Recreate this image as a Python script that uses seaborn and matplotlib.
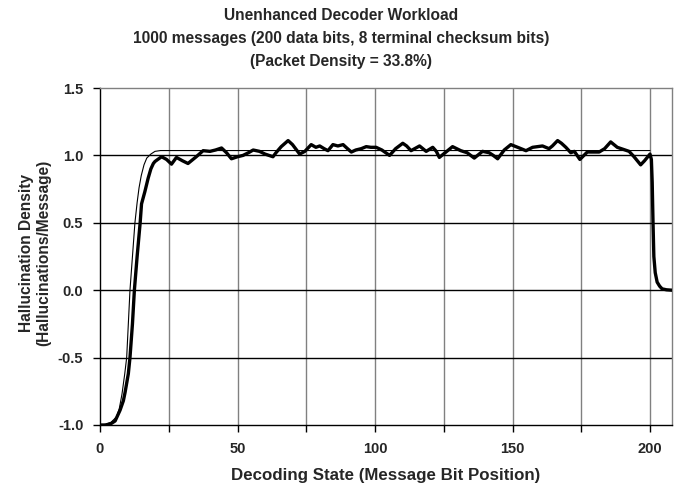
import numpy as np
import pandas as pd
import matplotlib
matplotlib.use('Agg')
import matplotlib.pyplot as plt
import seaborn as sns

# thin reference curve (expected density)
model_x = [0, 2, 4, 6, 7, 8, 9, 9.7, 10.3, 10.9, 11.8, 12.7, 13.5, 14.2, 15, 16, 17, 18.5, 20, 22, 200]
model_y = [-1.0, -0.995, -0.98, -0.94, -0.88, -0.77, -0.62, -0.5, -0.25, 0.0, 0.25, 0.5, 0.65, 0.76, 0.85, 0.93, 0.98, 1.01, 1.03, 1.036, 1.036]

# thick measured curve
meas_x = [0, 2, 4, 5.5, 7.3, 8.5, 9.1, 10.3, 10.9, 11.8, 12.5, 13.5, 14.6, 15.1, 16.3, 17.5,
          18.5, 19.4, 20, 21, 22.4, 24.2, 26, 27.8, 30, 32, 35, 37.5, 40, 42, 44.2, 46, 47.8,
          50, 52, 54, 55.7, 58, 60, 62.9, 64, 65.9, 68.4, 70, 72.6, 74.5, 76.8, 78.5, 79.9,
          81.5, 82.9, 84.7, 86.5, 88.4, 90, 91.4, 93, 95, 96.8, 98.5, 100.4, 102.5, 105.3,
          107.5, 110.1, 111.5, 113.1, 116.2, 118.6, 121, 122.3, 123.4, 125.5, 128.2, 131.2,
          133.5, 136.1, 139.1, 141.5, 143, 144.6, 147, 149.4, 152.5, 154.9, 157.3, 160.9,
          163.3, 164.5, 166.4, 167.8, 169.4, 171.2, 172.5, 174.5, 177.2, 181.5, 183.5, 185.7,
          188.1, 192.4, 194.2, 196.6, 198, 199.2, 200.0, 200.5, 200.8, 201.1, 201.4, 201.9,
          202.6, 203.5, 204.4, 206, 208]
meas_y = [-1.0, -1.0, -0.99, -0.97, -0.89, -0.82, -0.76, -0.62, -0.5, -0.25, 0.0, 0.25, 0.5,
          0.64, 0.73, 0.83, 0.9, 0.94, 0.955, 0.97, 0.99, 0.97, 0.935, 0.985, 0.96, 0.94, 0.99,
          1.035, 1.03, 1.04, 1.055, 1.02, 0.975, 0.99, 1.0, 1.02, 1.04, 1.03, 1.01, 0.99, 1.02,
          1.065, 1.11, 1.08, 1.01, 1.03, 1.08, 1.06, 1.07, 1.05, 1.035, 1.08, 1.07, 1.08, 1.05,
          1.025, 1.04, 1.05, 1.065, 1.06, 1.06, 1.04, 1.0, 1.05, 1.09, 1.07, 1.035, 1.07, 1.03,
          1.06, 1.03, 0.985, 1.02, 1.065, 1.035, 1.02, 0.98, 1.03, 1.02, 1.0, 0.975, 1.04, 1.08,
          1.055, 1.035, 1.06, 1.07, 1.05, 1.07, 1.11, 1.09, 1.06, 1.02, 1.03, 0.97, 1.025, 1.025,
          1.05, 1.10, 1.06, 1.03, 0.99, 0.93, 0.96, 0.99, 1.01, 0.97, 0.8, 0.5, 0.25, 0.13,
          0.06, 0.03, 0.01, 0.003, 0.0]

title = ('Unenhanced Decoder Workload\n'
         '1000 messages (200 data bits, 8 terminal checksum bits)\n'
         '(Packet Density = 33.8%)')

sns.set_style('white')
plt.rcParams['font.family'] = ['Liberation Sans', 'DejaVu Sans']
plt.rcParams['font.weight'] = 'bold'

fig = plt.figure(figsize=(6.83, 4.87), dpi=100)
ax = fig.add_axes([100 / 683, 1 - 425 / 487, 572 / 683, 337 / 487])

# grid: grey verticals every 25, black horizontals every 0.5
for gx in range(25, 201, 25):
    ax.axvline(gx, color='#808080', lw=1.0, zorder=1)
for gy in [-0.5, 0.0, 0.5, 1.0]:
    ax.axhline(gy, color='black', lw=1.0, zorder=1)

model = pd.DataFrame({'x': model_x, 'y': model_y})
meas = pd.DataFrame({'x': meas_x, 'y': meas_y})
sns.lineplot(data=model, x='x', y='y', color='black', lw=0.8, estimator=None, sort=False, ax=ax, zorder=3)
sns.lineplot(data=meas, x='x', y='y', color='black', lw=2.4, estimator=None, sort=False, ax=ax, zorder=4)

ax.set_xlim(0, 208)
ax.set_ylim(-1.0, 1.5)
ax.set_xticks(range(0, 201, 25))
ax.set_xticklabels(['0', '', '50', '', '100', '', '150', '', '200'])
ax.set_yticks([-1.0, -0.5, 0.0, 0.5, 1.0, 1.5])
ax.set_yticklabels(['-1.0', '-0.5', '0.0', '0.5', '1.0', '1.5'])
ax.tick_params(axis='both', direction='out', length=5, width=1, color='black',
               labelsize=10.5, pad=7, bottom=True, left=True)

for s in ['left', 'bottom']:
    ax.spines[s].set_color('black')
    ax.spines[s].set_linewidth(1)
for s in ['top', 'right']:
    ax.spines[s].set_color('#808080')
    ax.spines[s].set_linewidth(1)

ax.set_xlabel('Decoding State (Message Bit Position)', fontsize=12.2, fontweight='bold', labelpad=9)
ax.set_ylabel('Hallucination Density\n(Hallucinations/Message)', fontsize=11.2, fontweight='bold',
              va='center', ha='center')
ax.yaxis.set_label_coords(-0.114, 0.51)

fig.text(0.5, 1 - 8 / 487, title, ha='center', va='top', fontsize=11.2,
         fontweight='bold', linespacing=1.65)

fig.savefig('out.png', dpi=100)
